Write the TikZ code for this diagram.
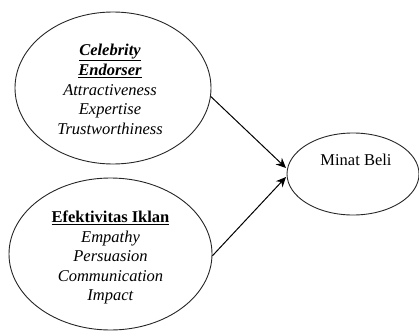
\documentclass[tikz,border=0pt]{standalone}
\usepackage{fontspec}
\setmainfont{Liberation Serif}
\usetikzlibrary{arrows.meta,shapes.geometric}
\begin{document}
\begin{tikzpicture}[x=1pt,y=-1pt,
  oval/.style={draw=black!85, line width=0.9pt, ellipse, inner sep=0pt},
  lbl/.style={align=center, font=\fontsize{16.5}{19.5}\selectfont, inner sep=0pt},
  conn/.style={draw=black, line width=1pt, -{Stealth[length=10pt,width=9pt]}}]
\useasboundingbox (0,0) rectangle (419,331);
\node[oval, minimum width=196pt, minimum height=152pt] (ce) at (113,88) {};
\node[oval, minimum width=203pt, minimum height=152pt] (ei) at (110.5,254) {};
\node[oval, minimum width=132pt, minimum height=82pt] (mb) at (353,174) {};
\node[lbl] (cet) at (110,89) {\textbf{\textit{\underline{Celebrity}}}\\[1pt]\textbf{\textit{\underline{Endorser}}}\\\textit{Attractiveness}\\\textit{Expertise}\\\textit{Trustworthiness}};
\node[lbl] (eit) at (110.5,257.5) {\textbf{\underline{Efektivitas Iklan}}\\\textit{Empathy}\\\textit{Persuasion}\\\textit{Communication}\\\textit{Impact}};
\node[lbl] (mbt) at (356,160) {Minat Beli};
\coordinate (t1) at (286,168);
\coordinate (t2) at (286,177);
\draw[conn] (ce.-5) -- (t1);
\draw[conn] (ei.-1) -- (t2);
\end{tikzpicture}
\end{document}
